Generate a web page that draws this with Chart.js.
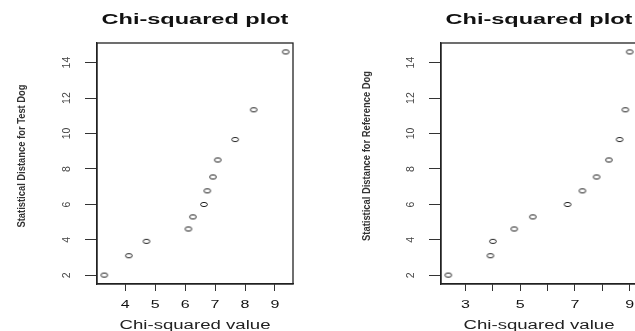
<!DOCTYPE html>
<html>
<head>
<meta charset="utf-8">
<script src="https://cdn.jsdelivr.net/npm/chart.js@4.4.0/dist/chart.umd.min.js"></script>
<style>
    html, body { margin: 0; padding: 0; background: #fff; }
    #wrap { position: relative; width: 635px; height: 331px; overflow: hidden; background: #fff; }
    canvas { position: absolute; top: 0; }
    #leftChart { left: 0; }
    #rightChart { left: 344px; }
</style>
</head>
<body>
<div id="wrap">
    <canvas id="leftChart" width="318" height="331"></canvas>
    <canvas id="rightChart" width="318" height="331"></canvas>
</div>
<script>
// Left panel
const leftChiSq = [3.30, 4.12, 4.71, 6.11, 6.26, 6.63, 6.74, 6.93, 7.09, 7.67, 8.29, 9.36];
const leftDistance = [2.02, 3.11, 3.92, 4.62, 5.30, 6.00, 6.77, 7.55, 8.51, 9.66, 11.34, 14.60];
const leftXTicks = [4, 5, 6, 7, 8, 9];
const leftXLabels = [4, 5, 6, 7, 8, 9];

// Right panel
const rightChiSq = [2.37, 3.91, 4.00, 4.78, 5.46, 6.73, 7.27, 7.79, 8.24, 8.63, 8.84, 9.00];
const rightDistance = [2.02, 3.11, 3.92, 4.62, 5.30, 6.00, 6.77, 7.55, 8.51, 9.66, 11.34, 14.60];
const rightXTicks = [3, 4, 5, 6, 7, 8, 9];
const rightXLabels = [3, 5, 7, 9];

const yTicks = [2, 4, 6, 8, 10, 12, 14];

const plotTitle = 'Chi-squared plot';
const xTitle = 'Chi-squared value';
const leftYTitle = 'Statistical Distance for Test Dog';
const rightYTitle = 'Statistical Distance for Reference Dog';

const ink = '#111';
const FONT = '"Liberation Sans", Arial, sans-serif';

// open ellipse marker (R's pch 1, squashed like the picture)
function makeMarker() {
    const c = document.createElement('canvas');
    c.width = 10;
    c.height = 7;
    const g = c.getContext('2d');
    g.strokeStyle = '#222';
    g.lineWidth = 1;
    g.beginPath();
    g.ellipse(5, 3.5, 3.4, 2.1, 0, 0, Math.PI * 2);
    g.stroke();
    return c;
}
const marker = makeMarker();

// R style axis range: data range plus 4% on each side
function padRange(values) {
    const lo = Math.min(...values);
    const hi = Math.max(...values);
    const d = (hi - lo) * 0.04;
    return [lo - d, hi + d];
}

function drawText(ctx, text, x, y, font, sx, rot, baseline, color) {
    ctx.save();
    ctx.translate(x, y);
    ctx.scale(sx, 1);
    ctx.rotate(rot);
    ctx.font = font;
    ctx.fillStyle = color || ink;
    ctx.textAlign = 'center';
    ctx.textBaseline = baseline;
    ctx.fillText(text, 0, 0);
    ctx.restore();
}

function makeChart(canvasId, xs, ys, xTicks, xLabels, yTitle, yTitleX) {
    const xr = padRange(xs);
    const yr = padRange(ys);

    const framePlugin = {
        id: 'frame',
        afterDraw(chart) {
            const ctx = chart.ctx;
            const a = chart.chartArea;
            const xs_ = chart.scales.x;
            const ys_ = chart.scales.y;

            // box round the plot
            ctx.save();
            ctx.strokeStyle = '#222';
            ctx.lineWidth = 1.3;
            ctx.strokeRect(a.left, a.top, a.right - a.left, a.bottom - a.top);
            ctx.restore();

            const cx = (a.left + a.right) / 2;
            drawText(ctx, plotTitle, cx, 24, 'bold 14px ' + FONT, 1.68, 0, 'alphabetic');
            drawText(ctx, xTitle, cx, 328.5, '12px ' + FONT, 1.55, 0, 'alphabetic', '#222');
            drawText(ctx, yTitle, yTitleX, 156, 'bold 9.4px ' + FONT, 1.1, -Math.PI / 2, 'middle', '#333');

            // tick labels
            xLabels.forEach(v => {
                drawText(ctx, String(v), xs_.getPixelForValue(v), 307.5, '10px ' + FONT, 1.6, 0, 'alphabetic');
            });
            ys_.ticks.forEach(t => {
                drawText(ctx, String(t.value), 67, ys_.getPixelForValue(t.value), '10.5px ' + FONT, 1, -Math.PI / 2, 'middle', '#444');
            });
        }
    };

    return new Chart(document.getElementById(canvasId), {
        type: 'scatter',
        data: {
            datasets: [{
                data: xs.map((x, i) => ({ x: x, y: ys[i] })),
                pointStyle: marker,
                pointRadius: 4,
                showLine: false,
            }]
        },
        options: {
            responsive: false,
            animation: false,
            devicePixelRatio: 1,
            layout: {
                padding: { top: 43, right: 25, left: 0, bottom: 0 }
            },
            plugins: {
                legend: { display: false },
                tooltip: { enabled: false },
            },
            scales: {
                x: {
                    type: 'linear',
                    min: xr[0],
                    max: xr[1],
                    afterBuildTicks: s => { s.ticks = xTicks.map(v => ({ value: v })); },
                    afterFit: s => { s.height = 47; },
                    ticks: { display: false },
                    grid: {
                        display: true,
                        drawOnChartArea: false,
                        drawTicks: true,
                        tickLength: 7,
                        color: '#333',
                    },
                    border: { display: true, color: '#222', width: 1.3 },
                },
                y: {
                    type: 'linear',
                    min: yr[0],
                    max: yr[1],
                    afterBuildTicks: s => { s.ticks = yTicks.map(v => ({ value: v })); },
                    afterFit: s => { s.width = 97; },
                    ticks: { display: false },
                    grid: {
                        display: true,
                        drawOnChartArea: false,
                        drawTicks: true,
                        tickLength: 12,
                        color: '#333',
                    },
                    border: { display: true, color: '#222', width: 1.3 },
                }
            }
        },
        plugins: [framePlugin]
    });
}

const leftChart = makeChart('leftChart', leftChiSq, leftDistance, leftXTicks, leftXLabels, leftYTitle, 21.7);
const rightChart = makeChart('rightChart', rightChiSq, rightDistance, rightXTicks, rightXLabels, rightYTitle, 22.7);
</script>
</body>
</html>
